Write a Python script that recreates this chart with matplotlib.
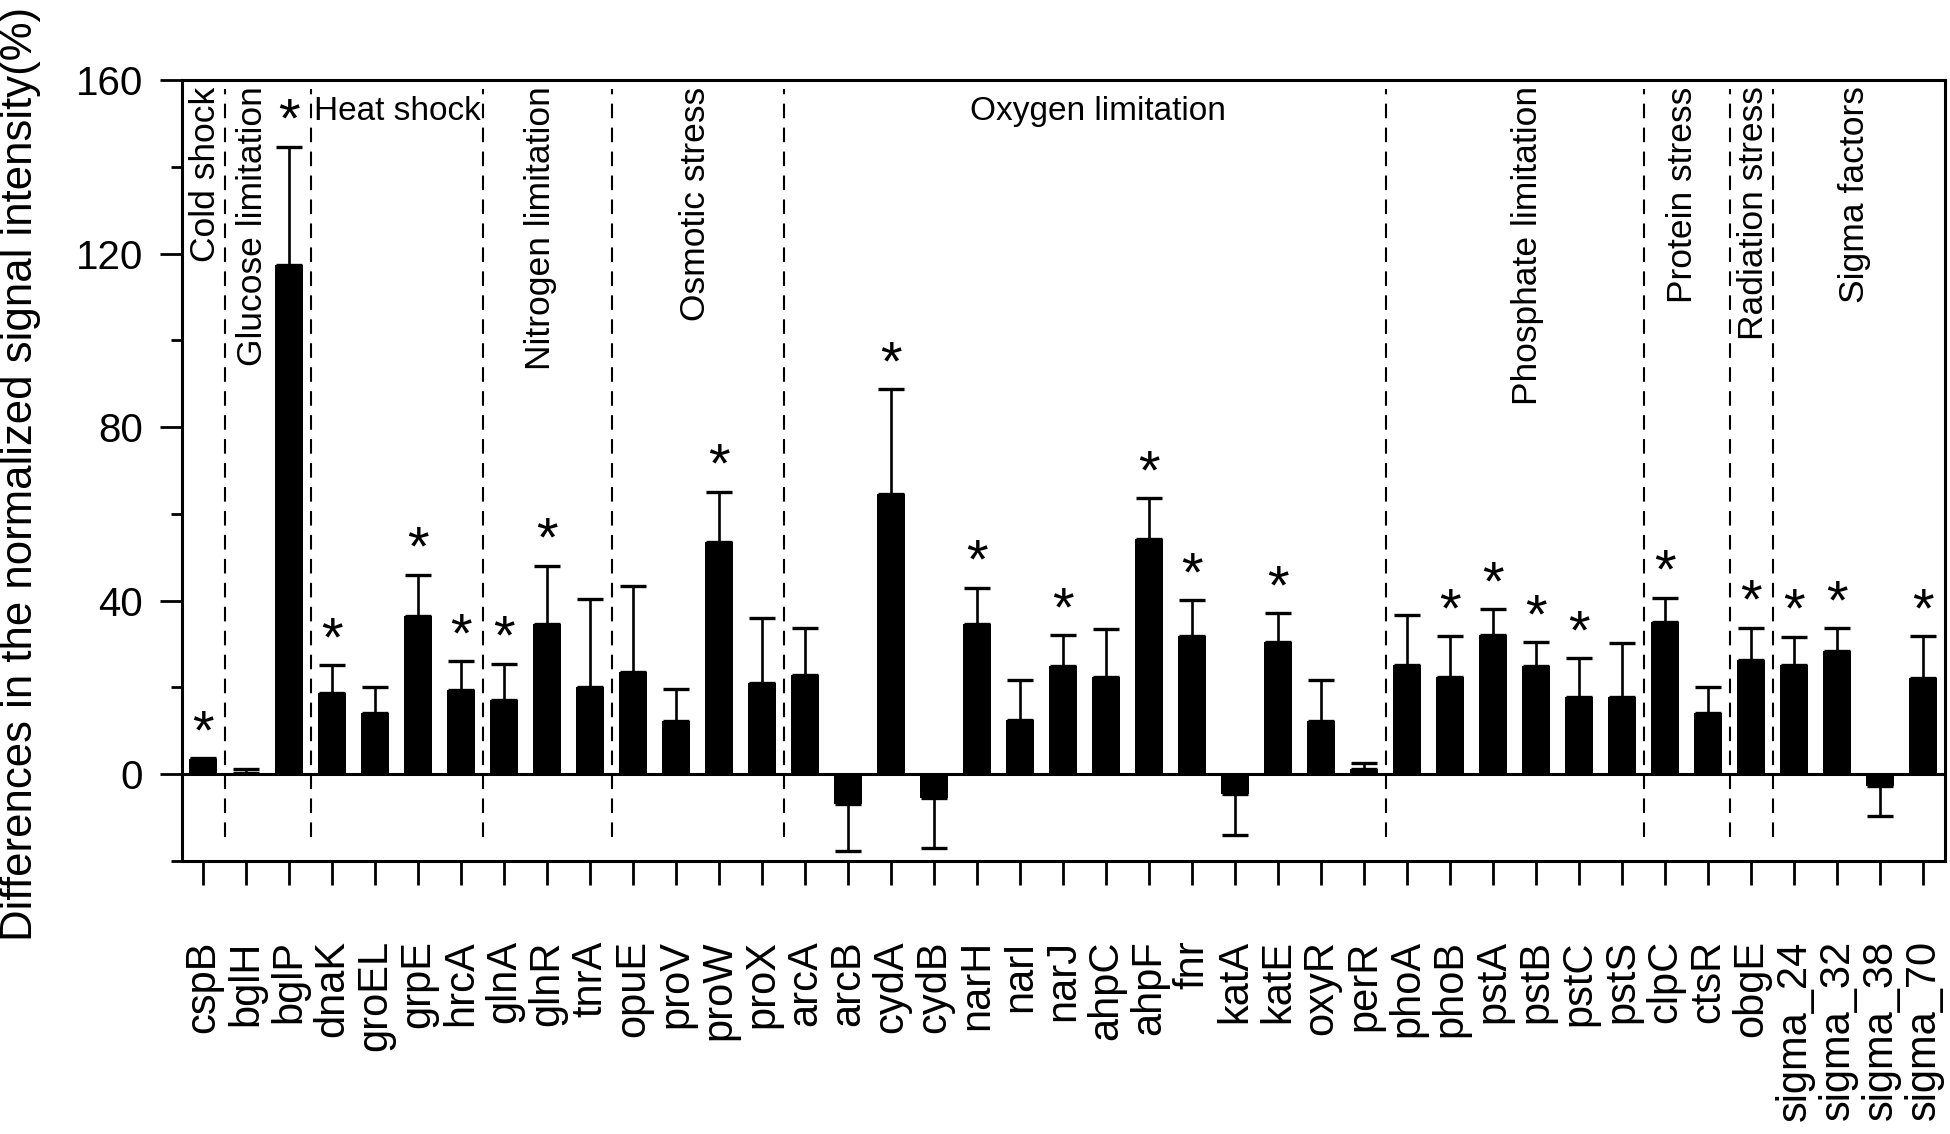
import numpy as np
import matplotlib
matplotlib.use('Agg')
import matplotlib.pyplot as plt
from matplotlib.ticker import MultipleLocator

plt.rcParams['font.family'] = ['Liberation Sans', 'DejaVu Sans']

genes = ['cspB', 'bglH', 'bglP', 'dnaK', 'groEL', 'grpE', 'hrcA', 'glnA', 'glnR', 'tnrA',
         'opuE', 'proV', 'proW', 'proX', 'arcA', 'arcB', 'cydA', 'cydB', 'narH', 'narI',
         'narJ', 'ahpC', 'ahpF', 'fnr', 'katA', 'katE', 'oxyR', 'perR', 'phoA', 'phoB',
         'pstA', 'pstB', 'pstC', 'pstS', 'clpC', 'ctsR', 'obgE',
         'sigma_24', 'sigma_32', 'sigma_38', 'sigma_70']

values = [3.5, 0.4, 117.3, 18.8, 14.1, 36.4, 19.5, 17.1, 34.7, 20.1,
          23.6, 12.2, 53.6, 21.0, 22.9, -6.9, 64.6, -5.4, 34.7, 12.4,
          25.0, 22.3, 54.2, 31.9, -4.5, 30.4, 12.2, 1.1, 25.1, 22.3,
          32.1, 25.0, 17.8, 17.7, 35.1, 14.1, 26.4,
          25.1, 28.5, -2.8, 22.1]

errors = [0.2, 0.8, 27.3, 6.3, 5.9, 9.6, 6.5, 8.4, 13.4, 20.2,
          19.7, 7.4, 11.5, 15.1, 10.8, 10.9, 24.1, 11.7, 8.3, 9.4,
          7.1, 11.2, 9.4, 8.3, 9.6, 6.7, 9.5, 1.6, 11.7, 9.6,
          6.0, 5.4, 9.0, 12.5, 5.6, 5.9, 7.4,
          6.6, 5.1, 6.8, 9.8]

significant = ['cspB', 'bglP', 'dnaK', 'grpE', 'hrcA', 'glnA', 'glnR', 'proW', 'cydA',
               'narH', 'narJ', 'ahpF', 'fnr', 'katE', 'phoB', 'pstA', 'pstB', 'pstC',
               'clpC', 'obgE', 'sigma_24', 'sigma_32', 'sigma_70']

# group name, first gene, last gene, label orientation
groups = [('Cold shock', 'cspB', 'cspB', 'v'),
          ('Glucose limitation', 'bglH', 'bglP', 'v'),
          ('Heat shock', 'dnaK', 'hrcA', 'h'),
          ('Nitrogen limitation', 'glnA', 'tnrA', 'v'),
          ('Osmotic stress', 'opuE', 'proX', 'v'),
          ('Oxygen limitation', 'arcA', 'perR', 'h'),
          ('Phosphate limitation', 'phoA', 'pstS', 'v'),
          ('Protein stress', 'clpC', 'ctsR', 'v'),
          ('Radiation stress', 'obgE', 'obgE', 'v'),
          ('Sigma factors', 'sigma_24', 'sigma_70', 'v')]

label_shift = {'Cold shock': 0.05, 'Glucose limitation': -0.35, 'Heat shock': 0.0,
               'Nitrogen limitation': -0.16, 'Osmotic stress': -0.05,
               'Oxygen limitation': 0.3, 'Phosphate limitation': 0.3,
               'Protein stress': -0.1, 'Radiation stress': 0.05, 'Sigma factors': -0.1}


def main():
    fig = plt.figure(figsize=(19.5, 11.34), dpi=100)
    ax = fig.add_axes([0.0933, 0.2407, 0.9041, 0.6888])

    x = np.arange(len(genes))
    vals = np.array(values)
    errs = np.array(errors)

    ax.bar(x, vals, width=0.65, color='k', edgecolor='none', zorder=2)

    lo = np.where(vals < 0, errs, 0)
    hi = np.where(vals >= 0, errs, 0)
    ax.errorbar(x, vals, yerr=[lo, hi], fmt='none', ecolor='k', elinewidth=1.9,
                capsize=9.5, capthick=2.4, zorder=3)

    ax.axhline(0, color='k', lw=2.2, zorder=4)

    # significance stars
    for g in significant:
        i = genes.index(g)
        top = vals[i] + errs[i] if vals[i] >= 0 else vals[i]
        ax.text(i, top + 5.5, '*', ha='center', va='center', fontsize=40)

    # group separators and labels
    for k, (name, first, last, orient) in enumerate(groups):
        i0 = genes.index(first)
        i1 = genes.index(last)
        if k > 0:
            ax.vlines(i0 - 0.5, -14.5, 158, colors='k', linewidth=1.5,
                      linestyles=(0, (7, 4.5)), zorder=1)
        xc = (i0 + i1) / 2.0 + label_shift[name]
        if orient == 'h':
            ax.text(xc, 152.8, name, ha='center', va='center', fontsize=24)
        else:
            ax.text(xc, 158.5, name, ha='center', va='top', rotation=90, fontsize=25.5)

    ax.set_xlim(-0.5, 40.5)
    ax.set_ylim(-20, 160)
    ax.set_xticks(x)
    ax.set_xticklabels(genes, rotation=90, va='top', fontsize=30)
    ax.yaxis.set_major_locator(MultipleLocator(40))
    ax.yaxis.set_minor_locator(MultipleLocator(20))
    ax.tick_params(axis='y', which='major', direction='out', length=16, width=2,
                   labelsize=29, pad=12, right=False)
    ax.tick_params(axis='y', which='minor', direction='out', length=8, width=2, right=False)
    ax.tick_params(axis='x', which='major', direction='out', length=17, width=2,
                   pad=40, top=False)
    for s in ax.spines.values():
        s.set_linewidth(2.2)

    fig.text(0.0105, 0.582, 'Differences in the normalized signal intensity(%)',
             rotation=90, ha='center', va='center', fontsize=31.5)

    fig.savefig('out.png', dpi=100)


if __name__ == '__main__':
    main()
